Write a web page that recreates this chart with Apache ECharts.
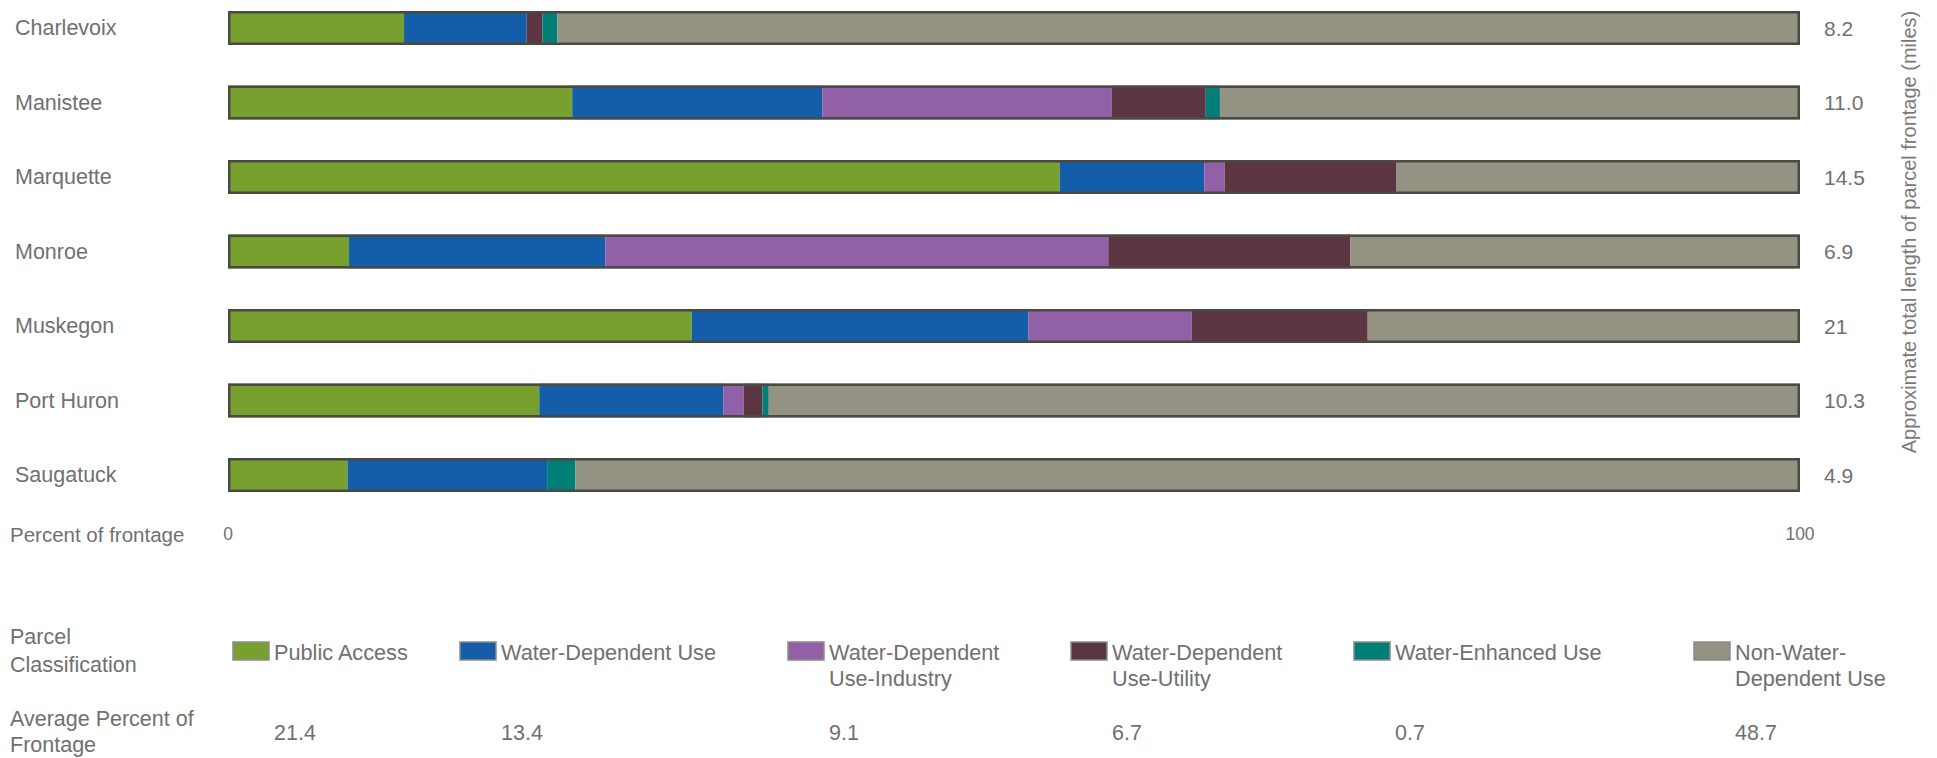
<!DOCTYPE html>
<html>
<head>
<meta charset="utf-8">
<script src="https://cdn.jsdelivr.net/npm/echarts@6/dist/echarts.min.js"></script>
<style>
html,body{margin:0;padding:0;background:#fff;}
#chart{width:1937px;height:758px;}
</style>
</head>
<body>
<div id="chart"></div>
<script>
const categories = ['Charlevoix','Manistee','Marquette','Monroe','Muskegon','Port Huron','Saugatuck'];
const milesLabels = ['8.2','11.0','14.5','6.9','21','10.3','4.9'];
const seriesNames = ['Public Access','Water-Dependent Use','Water-Dependent Use-Industry','Water-Dependent Use-Utility','Water-Enhanced Use','Non-Water-Dependent Use'];
const legendLabels = ['Public Access','Water-Dependent Use','Water-Dependent\nUse-Industry','Water-Dependent\nUse-Utility','Water-Enhanced Use','Non-Water-\nDependent Use'];
const averagePercent = ['21.4','13.4','9.1','6.7','0.7','48.7'];
const xTicks = ['0','100'];

const publicAccess   = [11.2, 21.9, 52.9,  7.7, 29.5, 19.8,  7.6];
const waterDependent = [ 7.8, 15.9,  9.2, 16.3, 21.4, 11.7, 12.7];
const industry       = [ 0.0, 18.4,  1.3, 32.0, 10.4,  1.3,  0.0];
const utility        = [ 1.0,  6.0, 10.9, 15.4, 11.2,  1.2,  0.0];
const enhanced       = [ 0.95, 0.9,  0.0,  0.0,  0.0,  0.4,  1.8];
const nonWater       = [79.05, 36.9, 25.7, 28.6, 27.5, 65.6, 77.9];
const outlineTotal   = [100, 100, 100, 100, 100, 100, 100];

const seriesValues = [publicAccess, waterDependent, industry, utility, enhanced, nonWater];
const colors = ['#78a02f','#145da9','#9260a6','#5c3543','#007f78','#949282'];

const FONT = '"Liberation Sans", Arial, sans-serif';
const TXT = '#707070';

const chart = echarts.init(document.getElementById('chart'), null, {renderer:'svg'});

const BAR_W = 34;
const series = seriesValues.map((vals, i) => ({
  name: seriesNames[i],
  type: 'bar',
  stack: 'total',
  barWidth: BAR_W,
  data: vals,
  itemStyle: { color: colors[i] },
  silent: true
}));
series.push({
  name: 'outline',
  type: 'bar',
  barWidth: BAR_W,
  barGap: '-100%',
  data: outlineTotal,
  itemStyle: { color: 'rgba(0,0,0,0)', borderColor: '#4a4a42', borderWidth: 2.5 },
  silent: true,
  z: 5
});

const swatchX = [233, 460, 788, 1071, 1354, 1694];
const graphics = [];
legendLabels.forEach((lbl, i) => {
  graphics.push({
    type: 'rect',
    shape: { x: swatchX[i], y: 642, width: 36, height: 18 },
    style: { fill: colors[i], stroke: '#8c8c8c', lineWidth: 1.5 }
  });
  graphics.push({
    type: 'text',
    style: { text: lbl, x: swatchX[i] + 41, y: 639, fill: TXT, fontSize: 21.7, fontFamily: FONT, lineHeight: 26, verticalAlign: 'top', align: 'left' }
  });
  graphics.push({
    type: 'text',
    style: { text: averagePercent[i], x: swatchX[i] + 41, y: 733, fill: TXT, fontSize: 21.5, fontFamily: FONT, verticalAlign: 'middle', align: 'left' }
  });
});
graphics.push({ type:'text', style:{ text:'Parcel', x:10, y:637, fill:TXT, fontSize:21.5, fontFamily:FONT, verticalAlign:'middle' } });
graphics.push({ type:'text', style:{ text:'Classification', x:10, y:665, fill:TXT, fontSize:21.5, fontFamily:FONT, verticalAlign:'middle' } });
graphics.push({ type:'text', style:{ text:'Average Percent of', x:10, y:719, fill:TXT, fontSize:21.5, fontFamily:FONT, verticalAlign:'middle' } });
graphics.push({ type:'text', style:{ text:'Frontage', x:10, y:745, fill:TXT, fontSize:21.5, fontFamily:FONT, verticalAlign:'middle' } });
graphics.push({ type:'text', style:{ text:'Percent of frontage', x:10, y:534, fill:TXT, fontSize:20.5, fontFamily:FONT, verticalAlign:'middle' } });
graphics.push({ type:'text', x:1909, y:232, rotation: Math.PI/2,
  style:{ text:'Approximate total length of parcel frontage (miles)', x:0, y:0, fill:'#7a7a7a', fontSize:20, fontFamily:FONT, align:'center', verticalAlign:'middle' } });

const option = {
  animation: false,
  backgroundColor: '#fff',
  textStyle: { fontFamily: FONT },
  grid: { left: 228, right: 137, top: -9.25, height: 521.5, containLabel: false, outerBoundsMode: 'none' },
  xAxis: {
    type: 'value', min: 0, max: 100, interval: 100,
    axisLine: { show: false }, axisTick: { show: false }, splitLine: { show: false },
    axisLabel: { color: TXT, fontSize: 17.5, fontFamily: FONT, margin: 13,
      formatter: v => (v === 0 ? xTicks[0] : (v === 100 ? xTicks[1] : '')) }
  },
  yAxis: [
    {
      type: 'category', data: categories, inverse: true,
      axisLine: { show: false }, axisTick: { show: false },
      axisLabel: { color: TXT, fontSize: 21.5, fontFamily: FONT, align: 'left', margin: 213 }
    },
    {
      type: 'category', data: milesLabels, inverse: true, position: 'right',
      axisLine: { show: false }, axisTick: { show: false },
      axisLabel: { color: TXT, fontSize: 21, fontFamily: FONT, align: 'left', margin: 24 }
    }
  ],
  graphic: graphics,
  series: series
};
chart.setOption(option);
</script>
</body>
</html>
